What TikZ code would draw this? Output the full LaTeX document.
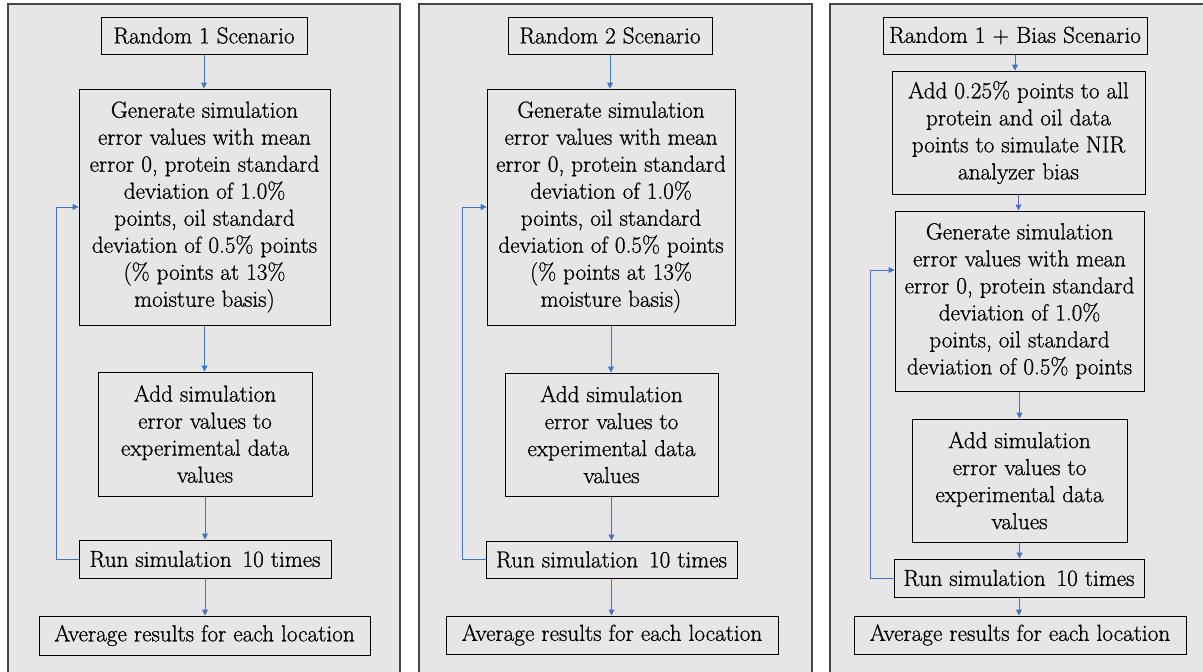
\documentclass[tikz,border=0pt]{standalone}
\usepackage{fontspec}
\newfontfamily\stepfont{Latin Modern Roman}[FakeBold=0.75]
\definecolor{panelgray}{RGB}{231, 230, 230}
\definecolor{framegray}{RGB}{70, 70, 70}
\definecolor{arrowblue}{RGB}{68, 114, 196}
\usepackage{tikz}
\usetikzlibrary{arrows.meta, positioning}

\begin{document}
\begin{tikzpicture}[x=1pt, y=-1pt,
                    panelbox/.style={draw=framegray, line width=1.6pt, fill=panelgray},
                    stepbox/.style={draw=black, line width=1pt, fill=panelgray, inner sep=0pt, align=center,
                                    font=\stepfont\fontsize{23.2}{27}\selectfont},
                    flowarrow/.style={-{Triangle[length=6pt, width=6pt]}, arrowblue, line width=1pt}]
                    \fill[white] (0,0) rectangle (1203,672);
                    \clip (0,0) rectangle (1203,672);
                    \draw[panelbox] (8,4) rectangle (400,690);
                    \draw[panelbox] (419,4) rectangle (812,690);
                    \draw[panelbox] (830,4) rectangle (1215,690);

                    \node[stepbox, minimum width=206pt, minimum height=37pt] (t1) at (204,35.5) {Random 1 Scenario};
                    \node[stepbox, minimum width=251pt, minimum height=236pt] (g1) at (204.5,207) {Generate simulation\\error values with mean\\error 0, protein standard\\deviation of 1.0\%\\points, oil standard\\deviation of 0.5\% points\\(\% points at 13\%\\moisture basis)};
                    \node[stepbox, minimum width=214pt, minimum height=124pt] (a1) at (205,434) {Add simulation\\error values to\\experimental data\\values};
                    \node[stepbox, minimum width=252pt, minimum height=38pt] (r1) at (205,559) {Run simulation\, 10 times};
                    \node[stepbox, minimum width=331pt, minimum height=39pt] (v1) at (204.5,635.5) {Average results for each location};

                    \node[stepbox, minimum width=204pt, minimum height=37pt] (t2) at (610,35.5) {Random 2 Scenario};
                    \node[stepbox, minimum width=248pt, minimum height=236pt] (g2) at (611,207) {Generate simulation\\error values with mean\\error 0, protein standard\\deviation of 1.0\%\\points, oil standard\\deviation of 0.5\% points\\(\% points at 13\%\\moisture basis)};
                    \node[stepbox, minimum width=213pt, minimum height=123pt] (a2) at (611.5,434.5) {Add simulation\\error values to\\experimental data\\values};
                    \node[stepbox, minimum width=251pt, minimum height=37pt] (r2) at (611.5,559.5) {Run simulation\, 10 times};
                    \node[stepbox, minimum width=332pt, minimum height=38pt] (v2) at (612,635) {Average results for each location};

                    \node[stepbox, minimum width=264pt, minimum height=37pt] (t3) at (1015,35.5) {Random 1 + Bias Scenario};
                    \node[stepbox, minimum width=253pt, minimum height=123pt] (b3) at (1018.5,132.5) {Add 0.25\% points to all\\protein and oil data\\points to simulate NIR\\analyzer bias};
                    \node[stepbox, minimum width=249pt, minimum height=180pt] (g3) at (1019.5,301) {Generate simulation\\error values with mean\\error 0, protein standard\\deviation of 1.0\%\\points, oil standard\\deviation of 0.5\% points};
                    \node[stepbox, minimum width=215pt, minimum height=123pt] (a3) at (1019.5,480.5) {Add simulation\\error values to\\experimental data\\values};
                    \node[stepbox, minimum width=250pt, minimum height=38pt] (r3) at (1019,578) {Run simulation\, 10 times};
                    \node[stepbox, minimum width=332pt, minimum height=38pt] (v3) at (1020,635) {Average results for each location};

                    \draw[flowarrow] (t1.south) -- (t1.south |- g1.north);
                    \draw[flowarrow] (g1.south) -- (g1.south |- a1.north);
                    \draw[flowarrow] (a1.south) -- (a1.south |- r1.north);
                    \draw[flowarrow] (r1.south) -- (r1.south |- v1.north);
                    \draw[flowarrow] (r1.west) -- ++(-22,0) |- (g1.west);

                    \draw[flowarrow] (t2.south) -- (t2.south |- g2.north);
                    \draw[flowarrow] (g2.south) -- (g2.south |- a2.north);
                    \draw[flowarrow] (a2.south) -- (a2.south |- r2.north);
                    \draw[flowarrow] (r2.south) -- (r2.south |- v2.north);
                    \draw[flowarrow] (r2.west) -- ++(-23,0) |- (g2.west);

                    \draw[flowarrow] (t3.south) -- (t3.south |- b3.north);
                    \draw[flowarrow] (b3.south) -- (b3.south |- g3.north);
                    \draw[flowarrow] (g3.south) -- (g3.south |- a3.north);
                    \draw[flowarrow] (a3.south) -- (a3.south |- r3.north);
                    \draw[flowarrow] (r3.south) -- (r3.south |- v3.north);
                    \draw[flowarrow] (r3.west) -- ++(-23,0) |- ([yshift=31pt]g3.west);
                \end{tikzpicture}
\end{document}
